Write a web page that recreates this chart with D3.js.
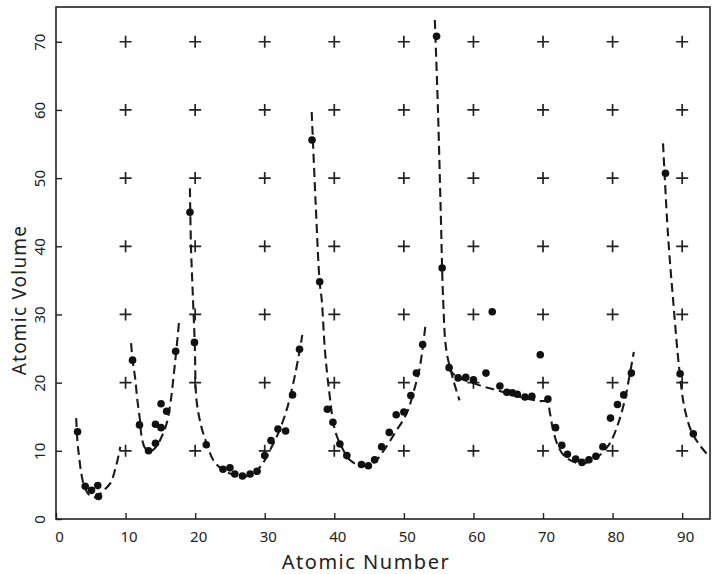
<!DOCTYPE html>
<html>
<head>
<meta charset="utf-8">
<script src="https://cdn.jsdelivr.net/npm/d3@7"></script>
<style>
  body { margin: 0; background: #fff; }
  svg { display: block; }
  text { font-family: "Noto Sans", "DejaVu Sans", sans-serif; fill: #222; }
</style>
</head>
<body>
<div id="chart"></div>
<script>
// atomic volume vs atomic number (dots)
const dotZ = [3.1, 4.2, 5.1, 6.0, 6.1,
  11.0, 12.0, 13.3, 14.3, 14.3, 15.1, 15.1, 15.9, 17.2,
  19.25, 19.9, 21.6, 24.0, 25.0, 25.7, 26.8, 27.9, 28.9, 30.0, 30.9, 31.9, 33.0, 34.0, 35.0,
  36.8, 37.9, 39.0, 39.8, 40.8, 41.8, 43.9, 44.9, 45.8, 46.8, 47.9, 48.9, 50.0, 51.0, 51.8, 52.7,
  54.7, 55.5, 56.5, 57.8, 58.9, 60.0, 61.8, 62.7, 63.8, 64.8, 65.6, 66.3, 67.4, 68.4, 69.6, 70.7,
  71.8, 72.7, 73.5, 74.7, 75.6, 76.6, 77.6, 78.6, 79.7, 80.7, 81.6, 82.7,
  87.6, 89.7, 91.6]
const dotV = [12.8, 4.8, 4.2, 4.9, 3.3,
  23.3, 13.8, 10.0, 11.1, 13.9, 13.4, 16.9, 15.8, 24.6,
  45.0, 25.9, 10.9, 7.3, 7.5, 6.6, 6.3, 6.6, 7.0, 9.3, 11.5, 13.2, 12.9, 18.2, 24.9,
  55.6, 34.8, 16.1, 14.2, 11.0, 9.3, 8.0, 7.8, 8.7, 10.6, 12.7, 15.3, 15.7, 18.1, 21.4, 25.6,
  70.8, 36.8, 22.2, 20.7, 20.8, 20.4, 21.4, 30.4, 19.5, 18.6, 18.5, 18.3, 17.9, 18.0, 24.1, 17.6,
  13.4, 10.8, 9.5, 8.8, 8.3, 8.7, 9.2, 10.6, 14.8, 16.8, 18.2, 21.4,
  50.7, 21.3, 12.5]

// hand drawn dashed curves [Z, V]
const curve1 = [[2.9, 14.8], [3.1, 11.1], [3.35, 8.9], [3.6, 6.9], [4.0, 5.0], [4.7, 3.6], [5.65, 3.2],
  [6.8, 4.15], [7.85, 5.3], [8.4, 6.9], [8.85, 8.65], [9.25, 10.6]]
const curve2 = [[10.8, 25.8], [11.0, 23.3], [11.35, 20.9], [11.7, 17.4], [12.07, 14.5], [12.3, 12.1],
  [12.8, 10.4], [13.5, 9.9], [14.4, 10.6], [15.2, 12.1], [15.9, 14.0], [16.5, 17.4], [16.95, 21.4],
  [17.3, 24.8], [17.7, 29.1]]
const curve3 = [[19.25, 48.5], [19.4, 40], [19.7, 32], [19.95, 25.5], [20.2, 17.4], [20.9, 13.5],
  [21.65, 11.1], [22.6, 8.65], [24.0, 7.2], [26.7, 6.2], [28.35, 6.7], [29.55, 7.9], [30.75, 10.1],
  [31.95, 12.6], [33.15, 16.0], [34.1, 19.9], [34.95, 24.3], [35.4, 27.0]]
const curve4 = [[36.75, 59.7], [37.3, 46.8], [37.9, 34.7], [38.2, 32.1], [38.65, 24.8], [39.3, 18.4],
  [40.1, 13.0], [41.05, 10.6], [42.25, 8.65], [43.9, 7.8], [45.6, 8.2], [47.0, 9.9], [48.7, 12.6],
  [50.4, 15.5], [51.6, 19.4], [52.3, 22.3], [53.1, 28.4]]
const curve5 = [[54.45, 73.2], [54.9, 60], [55.3, 45], [55.65, 32.1], [56.1, 24.8], [57.1, 20.4], [58.0, 17.4]]
const curve6 = [[56.5, 22.1], [57.3, 21.1], [60.9, 19.6], [63.3, 18.9], [67.1, 17.8], [69.5, 17.3],
  [70.6, 17.2], [71.0, 15.5], [71.45, 13.05], [72.2, 10.6], [73.1, 9.2], [74.8, 8.25], [76.2, 8.25],
  [77.9, 9.15], [79.6, 11.1], [80.8, 14.0], [81.75, 17.4], [82.5, 21.4], [83.05, 24.5]]
const curve7 = [[87.25, 55.1], [87.95, 41.9], [88.7, 32.1], [89.55, 22.3], [90.3, 16.5], [91.3, 12.9],
  [92.4, 11.0], [93.5, 9.6]]
const curves = [curve1, curve2, curve3, curve4, curve5, curve6, curve7]

const xTicks = [0, 10, 20, 30, 40, 50, 60, 70, 80, 90]
const yTicks = [0, 10, 20, 30, 40, 50, 60, 70]
const crossX = [10, 20, 30, 40, 50, 60, 70, 80, 90]
const crossY = [10, 20, 30, 40, 50, 60, 70]

const width = 712, height = 574
const margin = {top: 7, right: 2, bottom: 55, left: 56}
const innerheight = height - margin.top - margin.bottom

const svg = d3.select('#chart').append('svg')
  .attr('width', width).attr('height', height)
const g = svg.append('g').attr('transform', `translate(${margin.left},${margin.top})`)

const xScale = d3.scaleLinear().domain([0, 94]).range([0, 654])
const yScale = d3.scaleLinear().domain([0, 75.1]).range([innerheight, 0])

// frame
g.append('rect')
  .attr('width', 654).attr('height', innerheight)
  .attr('fill', 'none').attr('stroke', '#222').attr('stroke-width', 1.6)

// plus-sign grid
const crosses = crossX.flatMap(x => crossY.map(y => [x, y]))
g.append('g').selectAll('path')
  .data(crosses)
  .join('path')
  .attr('d', d => {
    const cx = xScale(d[0]), cy = yScale(d[1])
    return `M${cx - 6},${cy}H${cx + 6}M${cx},${cy - 6}V${cy + 6}`
  })
  .attr('stroke', '#222').attr('stroke-width', 1.7)

// axes, ticks pointing inward
const xAxis = d3.axisBottom(xScale).tickValues(xTicks).tickSizeInner(-6).tickSizeOuter(0).tickPadding(12)
const yAxis = d3.axisLeft(yScale).tickValues(yTicks).tickSizeInner(-6).tickSizeOuter(0)

const gx = g.append('g').attr('transform', `translate(0,${innerheight})`).call(xAxis)
gx.select('.domain').remove()
gx.selectAll('.tick line').attr('stroke', '#222').attr('stroke-width', 1.4)
gx.selectAll('.tick text')
  .attr('x', 3).attr('font-size', 15).attr('fill', '#222')
  .style('font-family', '"Noto Sans", "DejaVu Sans", sans-serif')

const gy = g.append('g').call(yAxis)
gy.select('.domain').remove()
gy.selectAll('.tick line').attr('stroke', '#222').attr('stroke-width', 1.4)
gy.selectAll('.tick text')
  .attr('x', 0).attr('dy', '0.35em')
  .attr('text-anchor', 'middle')
  .attr('transform', 'translate(-16,0) rotate(-90)')
  .attr('font-size', 15).attr('fill', '#222')
  .style('font-family', '"Noto Sans", "DejaVu Sans", sans-serif')

// dashed curves
const line = d3.line()
  .x(d => xScale(d[0])).y(d => yScale(d[1]))
  .curve(d3.curveCatmullRom.alpha(0.5))
g.append('g').selectAll('path')
  .data(curves)
  .join('path')
  .attr('d', line)
  .attr('fill', 'none')
  .attr('stroke', '#1a1a1a')
  .attr('stroke-width', 2.1)
  .attr('stroke-dasharray', '9,5')

// data points
g.append('g').selectAll('circle')
  .data(dotZ.map((z, i) => [z, dotV[i]]))
  .join('circle')
  .attr('cx', d => xScale(d[0]))
  .attr('cy', d => yScale(d[1]))
  .attr('r', 3.8)
  .attr('fill', '#111')

// axis titles
svg.append('text')
  .attr('x', 366).attr('y', 569)
  .attr('text-anchor', 'middle')
  .attr('font-size', 20).attr('letter-spacing', 1.5)
  .text('Atomic Number')

svg.append('text')
  .attr('transform', 'translate(19,300) rotate(-90)')
  .attr('text-anchor', 'middle')
  .attr('dy', '0.35em')
  .attr('font-size', 19).attr('letter-spacing', 1.2)
  .text('Atomic Volume')
</script>
</body>
</html>
